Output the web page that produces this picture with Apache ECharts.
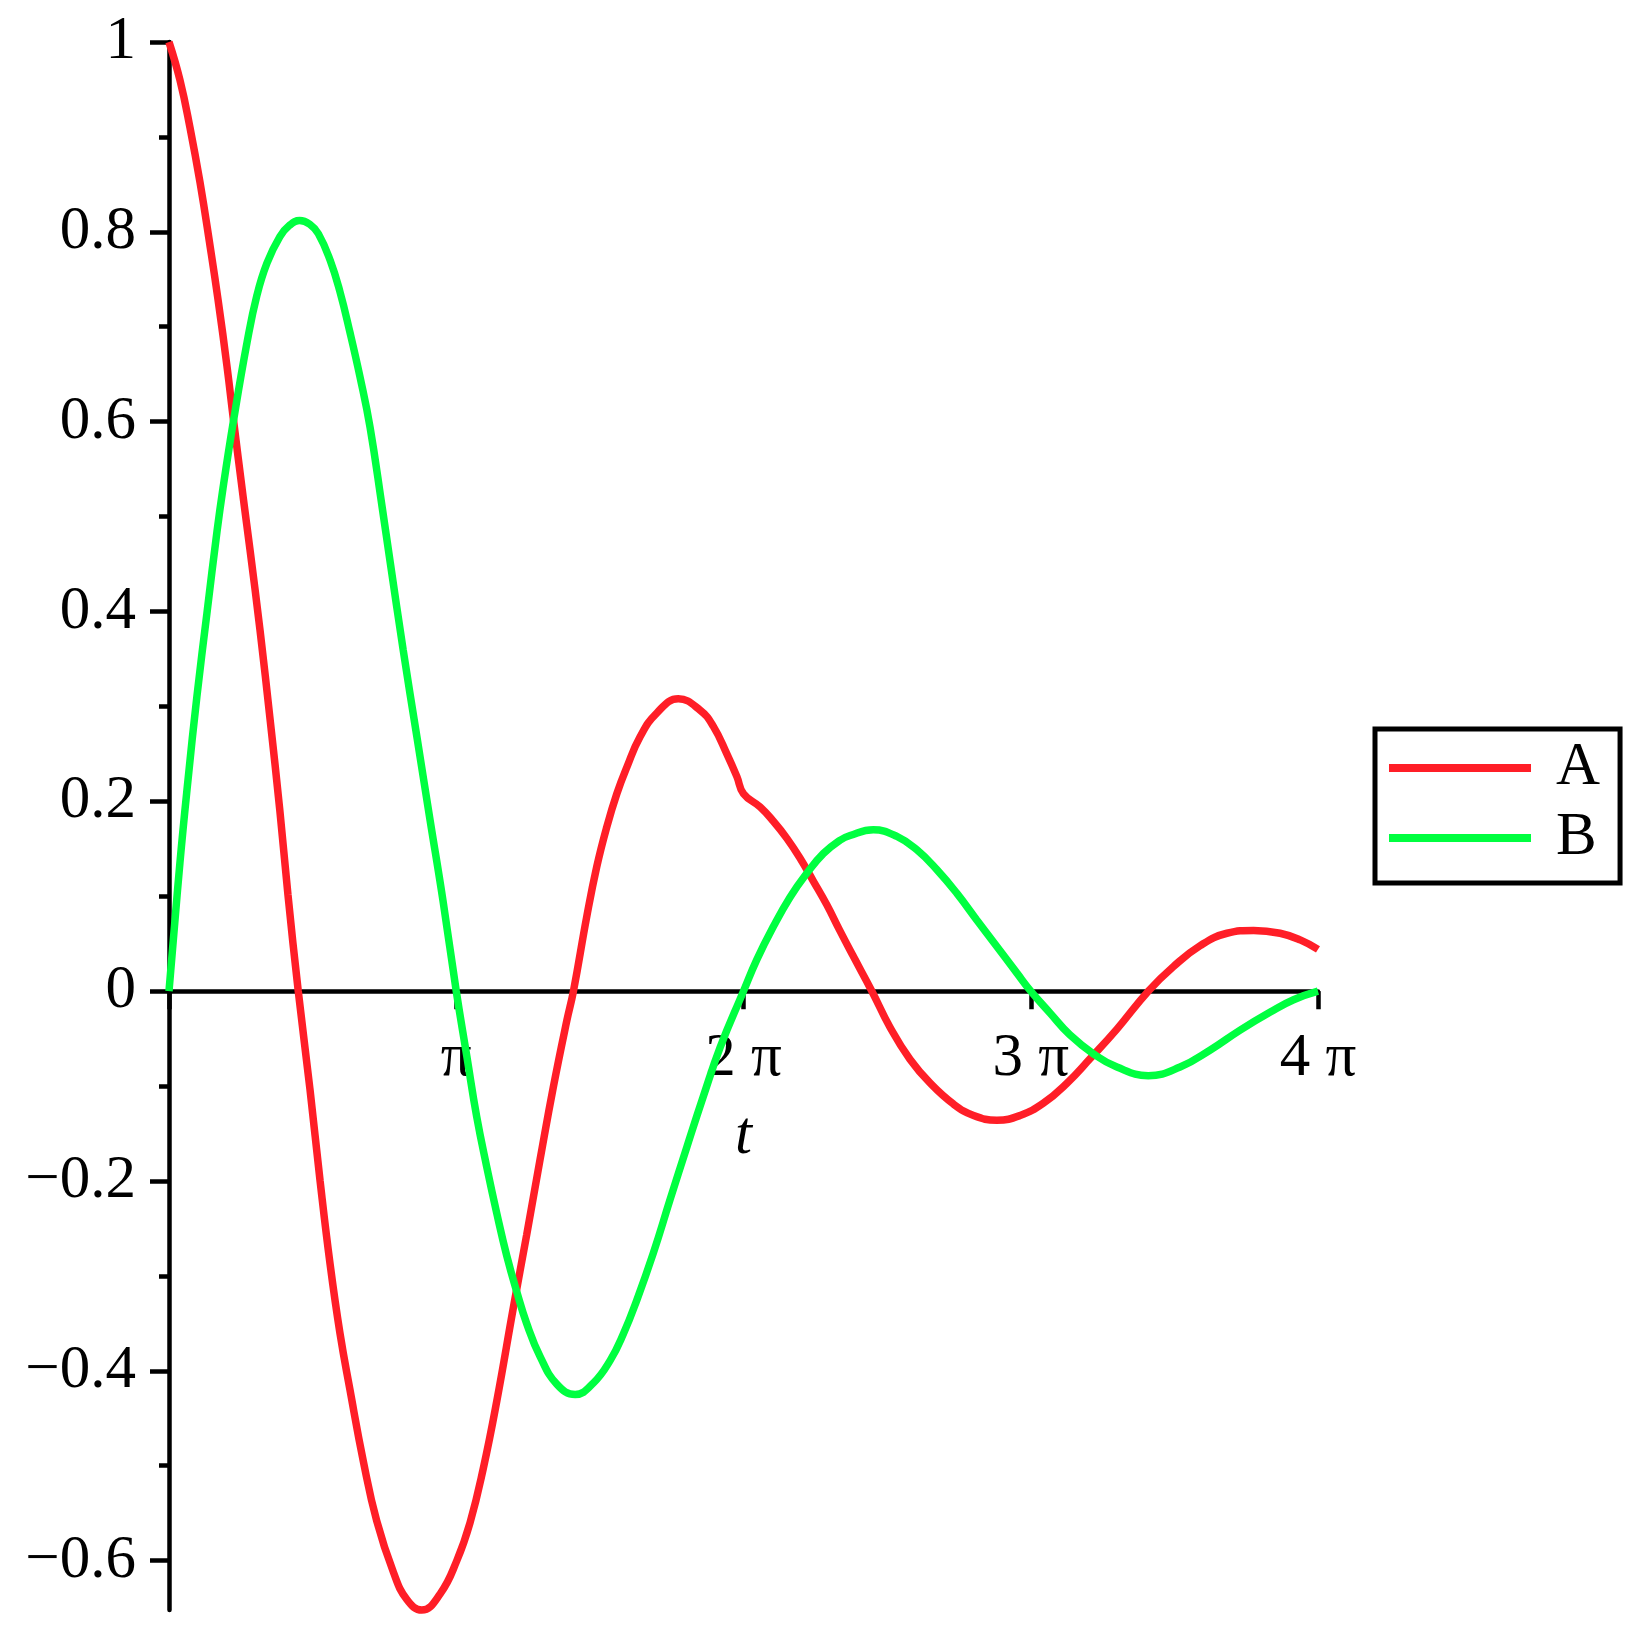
<!DOCTYPE html>
<html>
<head>
<meta charset="utf-8">
<script src="https://cdn.jsdelivr.net/npm/echarts@6/dist/echarts.min.js"></script>
<style>
    html, body { margin: 0; padding: 0; background: #ffffff; }
    #plot { width: 1651px; height: 1640px; }
</style>
</head>
<body>
<div id="plot"></div>
<script>
    // t values are in multiples of pi
    var tA = [0, 0.038, 0.073, 0.108, 0.143, 0.171, 0.202, 0.224, 0.258, 0.282, 0.317, 0.352, 0.386, 0.414, 0.450,
        0.491, 0.526, 0.561, 0.595, 0.630, 0.677, 0.723, 0.781, 0.828, 0.880, 0.944, 1.002, 1.048, 1.094, 1.141,
        1.199, 1.245, 1.292, 1.338, 1.385, 1.408, 1.454, 1.489, 1.524, 1.559, 1.594, 1.640, 1.698, 1.773, 1.849,
        1.895, 1.942, 1.977, 2.000, 2.058, 2.104, 2.151, 2.197, 2.243, 2.290, 2.335, 2.380, 2.447, 2.510, 2.580,
        2.650, 2.731, 2.801, 2.882, 2.963, 3.044, 3.126, 3.207, 3.300, 3.409, 3.497, 3.590, 3.683, 3.776, 3.868,
        3.938, 4.000];
    var valuesA = [1.0, 0.960, 0.910, 0.852, 0.785, 0.728, 0.658, 0.603, 0.521, 0.465, 0.380, 0.286, 0.190, 0.102, 0.0,
        -0.104, -0.200, -0.288, -0.360, -0.420, -0.496, -0.558, -0.612, -0.641, -0.652, -0.635, -0.600, -0.560, -0.503, -0.432,
        -0.333, -0.257, -0.177, -0.101, -0.031, 0.0, 0.078, 0.131, 0.173, 0.208, 0.236, 0.268, 0.293, 0.308, 0.296,
        0.279, 0.250, 0.226, 0.208, 0.194, 0.179, 0.161, 0.140, 0.116, 0.091, 0.064, 0.038, 0.0, -0.038, -0.072,
        -0.097, -0.119, -0.131, -0.136, -0.131, -0.118, -0.097, -0.071, -0.040, 0.0, 0.026, 0.048, 0.061, 0.064, 0.061,
        0.054, 0.044];

    var tB = [0, 0.038, 0.066, 0.097, 0.132, 0.167, 0.188, 0.224, 0.272, 0.306, 0.341, 0.386, 0.420, 0.455, 0.490,
        0.520, 0.561, 0.595, 0.630, 0.665, 0.700, 0.742, 0.770, 0.815, 0.864, 0.909, 0.954, 1.000, 1.037, 1.071,
        1.106, 1.141, 1.176, 1.211, 1.245, 1.292, 1.350, 1.414, 1.477, 1.536, 1.582, 1.628, 1.686, 1.744, 1.803,
        1.860, 1.919, 2.000, 2.046, 2.104, 2.162, 2.220, 2.278, 2.336, 2.371, 2.452, 2.534, 2.603, 2.673, 2.743,
        2.812, 2.882, 2.952, 3.000, 3.067, 3.136, 3.218, 3.300, 3.409, 3.520, 3.625, 3.729, 3.834, 3.915, 4.000];
    var valuesB = [0, 0.135, 0.222, 0.310, 0.398, 0.484, 0.530, 0.600, 0.684, 0.733, 0.767, 0.795, 0.807, 0.812, 0.808,
        0.798, 0.770, 0.737, 0.694, 0.647, 0.594, 0.510, 0.452, 0.360, 0.266, 0.180, 0.095, 0, -0.069, -0.132,
        -0.185, -0.234, -0.279, -0.317, -0.350, -0.385, -0.414, -0.425, -0.413, -0.389, -0.361, -0.326, -0.276, -0.220, -0.164,
        -0.111, -0.059, 0, 0.033, 0.068, 0.099, 0.124, 0.145, 0.159, 0.164, 0.170, 0.163, 0.149, 0.128, 0.103,
        0.075, 0.047, 0.019, 0, -0.023, -0.046, -0.066, -0.080, -0.089, -0.080, -0.062, -0.041, -0.022, -0.009, 0];

    var seriesNames = ['A', 'B'];
    var seriesColors = ['#ff1e27', '#00ff40'];
    var xTicks = [0, 1, 2, 3, 4];
    var xTickLabels = ['', 'π', '2 π', '3 π', '4 π'];
    var yMajorTicks = [-0.6, -0.4, -0.2, 0, 0.2, 0.4, 0.6, 0.8, 1];
    var yMinorTicks = [-0.5, -0.3, -0.1, 0.1, 0.3, 0.5, 0.7, 0.9];

    var font = 'Liberation Serif';
    var yMin = Math.min.apply(null, valuesA.concat(valuesB));
    var yMax = Math.max.apply(null, valuesA.concat(valuesB));

    var gridTop = 42, gridBottom = 30, chartHeight = 1640;
    // the t axis sits on y = 0, so shift it up from the bottom of the grid
    var plotHeight = chartHeight - gridTop - gridBottom;
    var zeroShift = plotHeight * (0 - yMin) / (yMax - yMin);

    function pairs(ts, vs) {
        var out = [];
        for (var i = 0; i < ts.length; i++) {
            out.push([ts[i], vs[i]]);
        }
        return out;
    }

    function yLabel(v) {
        if (v < 0) return '\u2212' + (-v);
        return '' + v;
    }

    var axisLineStyle = {color: '#000', width: 4.5};

    var myChart = echarts.init(document.getElementById('plot'));
    var option = {
        animation: false,
        backgroundColor: '#ffffff',
        grid: {left: 169, right: 333, top: gridTop, bottom: gridBottom, containLabel: false, outerBoundsMode: 'none'},
        legend: {
            data: seriesNames,
            orient: 'vertical',
            left: 1375,
            top: 729,
            padding: [8, 20, 14, 14],
            borderColor: '#000',
            borderWidth: 5,
            icon: 'rect',
            itemWidth: 142,
            itemHeight: 8,
            itemGap: 8,
            selectedMode: false,
            textStyle: {fontFamily: font, fontSize: 61, color: '#000', lineHeight: 62, padding: [0, 0, 0, 20]}
        },
        xAxis: {
            type: 'value',
            min: 0,
            max: 4,
            interval: 1,
            offset: -zeroShift,
            name: 't',
            nameLocation: 'middle',
            nameGap: 115,
            nameTextStyle: {fontFamily: font, fontSize: 61, fontStyle: 'italic', color: '#000'},
            axisLine: {show: true, onZero: false, lineStyle: axisLineStyle},
            axisTick: {show: true, length: 18, lineStyle: axisLineStyle},
            axisLabel: {
                margin: 37,
                fontFamily: font, fontSize: 61, color: '#000',
                formatter: function (v) {
                    var i = xTicks.indexOf(v);
                    return i < 0 ? '' : xTickLabels[i];
                }
            },
            splitLine: {show: false}
        },
        yAxis: [
            {
                type: 'value',
                min: yMin,
                max: yMax,
                position: 'left',
                axisLine: {show: true, onZero: false, lineStyle: axisLineStyle},
                axisTick: {show: true, customValues: yMajorTicks, length: 19, lineStyle: axisLineStyle},
                axisLabel: {
                    customValues: yMajorTicks,
                    margin: 33,
                    padding: [8, 0, 0, 0],
                    fontFamily: font, fontSize: 61, color: '#000',
                    formatter: yLabel
                },
                splitLine: {show: false}
            },
            {
                type: 'value',
                min: yMin,
                max: yMax,
                position: 'left',
                axisLine: {show: false},
                axisTick: {show: true, customValues: yMinorTicks, length: 10, lineStyle: axisLineStyle},
                axisLabel: {show: false},
                splitLine: {show: false}
            }
        ],
        series: [
            {
                name: seriesNames[0],
                type: 'line',
                data: pairs(tA, valuesA),
                symbol: 'none',
                smooth: 0.45,
                clip: false,
                color: seriesColors[0],
                lineStyle: {color: seriesColors[0], width: 7.5}
            },
            {
                name: seriesNames[1],
                type: 'line',
                data: pairs(tB, valuesB),
                symbol: 'none',
                smooth: 0.45,
                clip: false,
                color: seriesColors[1],
                lineStyle: {color: seriesColors[1], width: 7.5}
            }
        ]
    };
    myChart.setOption(option);
</script>
</body>
</html>
